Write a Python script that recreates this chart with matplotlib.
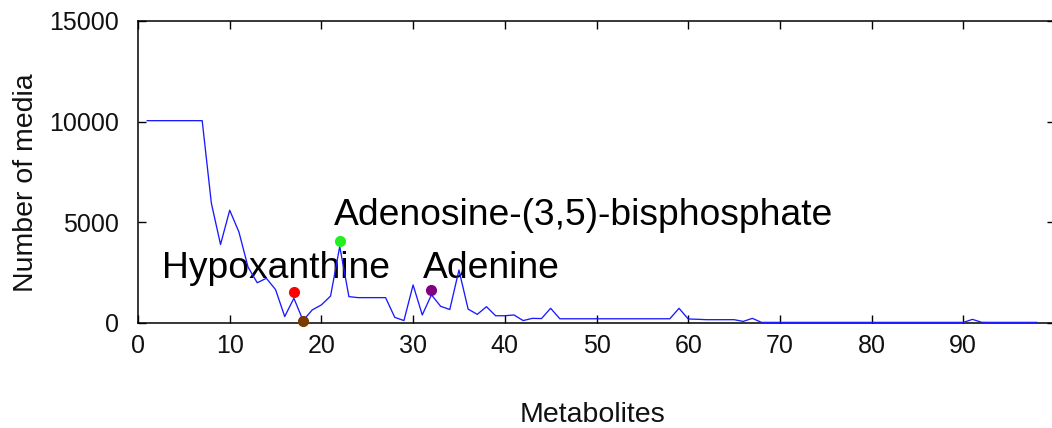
import matplotlib
matplotlib.use("Agg")
import matplotlib.pyplot as plt

plt.rcParams['font.family'] = ['Liberation Sans', 'DejaVu Sans']

# Data
metabolite_index = list(range(1, 99))
media_counts = [
    10050, 10050, 10050, 10050, 10050, 10050, 10050, 5950, 3900, 5600,
    4530, 2780, 2000, 2220, 1660, 320, 1230, 120, 650, 900,
    1340, 3800, 1310, 1260, 1260, 1260, 1260, 280, 120, 1890,
    400, 1400, 830, 670, 2630, 690, 430, 810, 360, 360,
    400, 120, 230, 220, 730, 210, 210, 210, 210, 210,
    210, 210, 210, 210, 210, 210, 210, 210, 730, 200,
    185, 165, 165, 165, 165, 80, 230, 30, 30, 30,
    30, 30, 30, 30, 30, 30, 30, 30, 30, 30,
    30, 30, 30, 30, 30, 30, 30, 30, 30, 30,
    180, 35, 30, 30, 30, 30, 30, 30,
]

highlight_names = ["Hypoxanthine", "", "Adenosine-(3,5)-bisphosphate", "Adenine"]
highlight_x = [17, 18, 22, 32]
highlight_y = [1550, 90, 4050, 1650]
highlight_colors = ["#ff0000", "#7a3a00", "#22ee22", "#800080"]

label_x = [2.6, None, 21.4, 31.1]
label_y = [2220, None, 4870, 2220]

xticks = [0, 10, 20, 30, 40, 50, 60, 70, 80, 90]
yticks = [0, 5000, 10000, 15000]

fig = plt.figure(figsize=(10.52, 4.28), dpi=100)
ax = fig.add_axes([138/1052, 105/428, 917/1052, 302/428])

ax.plot(metabolite_index, media_counts, color="#1a1aff", linewidth=0.95, zorder=4)

for name, hx, hy, c, lx, ly in zip(highlight_names, highlight_x, highlight_y,
                                    highlight_colors, label_x, label_y):
    ax.plot([hx], [hy], 'o', color=c, markersize=7, zorder=5, clip_on=False)
    if name:
        ax.text(lx, ly, name, fontsize=26.8, ha='left', va='baseline',
                color='black', zorder=3)

ax.set_xlim(0, 100)
ax.set_ylim(0, 15000)
ax.set_xticks(xticks)
ax.set_yticks(yticks)
ax.tick_params(direction='in', length=6, width=1.0, top=True, right=True,
               labelsize=18, labelcolor='#111111')
ax.tick_params(axis='y', pad=14)
ax.tick_params(axis='x', pad=8)
for s in ax.spines.values():
    s.set_linewidth(1.1)

ax.set_xlabel("Metabolites", fontsize=20.5, color='#111111')
ax.xaxis.label.set_va('baseline')
ax.xaxis.set_label_coords((592.5 - 138) / 917, (323 - 422) / 302)

ax.set_ylabel("Number of media", fontsize=20.5, color='#111111')
ax.yaxis.label.set_va('baseline')
ax.yaxis.set_label_coords((33 - 138) / 917, (323 - 182.5) / 302)

fig.savefig("out.png", dpi=100)
